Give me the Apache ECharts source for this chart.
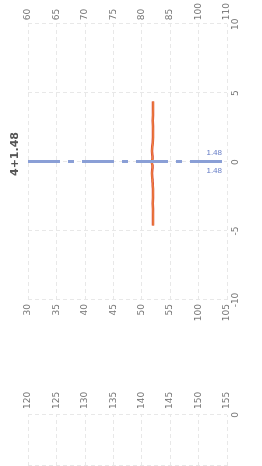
<!DOCTYPE html>
<html>
<head>
<meta charset="utf-8">
<script src="https://cdn.jsdelivr.net/npm/echarts@6/dist/echarts.min.js"></script>
<style>
  html, body { margin: 0; padding: 0; background: #fff; overflow: hidden; }
  #wrap { position: absolute; left: 0; top: 0; width: 262px; height: 466px; overflow: hidden; }
  #chart { position: absolute; left: 0; top: 0; width: 466px; height: 262px;
           transform-origin: 0 0; transform: translate(0, 466px) rotate(-90deg); }
</style>
</head>
<body>
<div id="wrap"><div id="chart"></div></div>
<script>
// row labels (top to bottom), three label columns
var rowLabelsRight = ['60', '65', '70', '75', '80', '85', '100', '110'];
var rowLabelsMid = ['30', '35', '40', '45', '50', '55', '100', '105'];
var rowLabelsLeft = ['120', '125', '130', '135', '140', '145', '150', '155'];

// main panel x values
var curveX = [-4.6, -3.8, -3.0, -2.2, -1.4, -0.8, -0.3, 0, 0.3, 0.8, 1.4, 2.2, 3.0, 3.8, 4.4];
var curveY = [4.40, 4.40, 4.39, 4.40, 4.38, 4.36, 4.38, 4.35, 4.38, 4.36, 4.39, 4.40, 4.39, 4.40, 4.40];

var refValue = 0;
var refLabel = '1.48';
var titleText = '4+1.48';

var chart = echarts.init(document.getElementById('chart'));

function pairs(xs, ys) {
  var out = [];
  for (var i = 0; i < xs.length; i++) out.push([xs[i], ys[i]]);
  return out;
}

var gridLine = { show: true, lineStyle: { color: '#e8e8e8', type: [4, 3], width: 1 } };
var lbl = { color: '#777', fontSize: 9, fontFamily: 'DejaVu Sans' };

option = {
  animation: false,
  title: {
    text: titleText,
    left: 307,
    top: 5,
    textAlign: 'center',
    textStyle: { fontSize: 11, fontWeight: 'bold', color: '#555', fontFamily: 'DejaVu Sans' }
  },
  grid: [
    { left: 166, right: 17, top: 28, bottom: 35 },
    { left: 0, right: 415, top: 28, bottom: 35 }
  ],
  xAxis: [
    { gridIndex: 0, type: 'value', min: -10, max: 10, interval: 5,
      axisLine: { show: false }, axisTick: { show: false },
      axisLabel: Object.assign({ margin: 4 }, lbl), splitLine: gridLine },
    { gridIndex: 1, type: 'value', min: -1, max: 0, interval: 1,
      axisLine: { show: false }, axisTick: { show: false },
      axisLabel: Object.assign({ margin: 4, showMinLabel: false }, lbl), splitLine: gridLine }
  ],
  yAxis: [
    { gridIndex: 0, type: 'value', min: 0, max: 7, interval: 1, inverse: true, position: 'left',
      axisLine: { show: false }, axisTick: { show: false }, splitLine: gridLine,
      axisLabel: Object.assign({ margin: 4, formatter: function (v) { return rowLabelsMid[v]; } }, lbl) },
    { gridIndex: 0, type: 'value', min: 0, max: 7, interval: 1, inverse: true, position: 'right',
      axisLine: { show: false }, axisTick: { show: false }, splitLine: { show: false },
      axisLabel: Object.assign({ margin: 4, formatter: function (v) { return rowLabelsRight[v]; } }, lbl) },
    { gridIndex: 1, type: 'value', min: 0, max: 7, interval: 1, inverse: true, position: 'right',
      axisLine: { show: false }, axisTick: { show: false }, splitLine: gridLine,
      axisLabel: Object.assign({ margin: 6, formatter: function (v) { return rowLabelsLeft[v]; } }, lbl) }
  ],
  series: [
    {
      type: 'line', xAxisIndex: 0, yAxisIndex: 0, data: pairs(curveX, curveY),
      showSymbol: false, smooth: true,
      lineStyle: { color: '#d9453a', width: 2.5 },
      markLine: {
        symbol: 'none', silent: true,
        lineStyle: { color: '#8a9fd6', width: 3, type: [32, 8, 6, 8] },
        label: { show: true, position: 'insideEndTop', formatter: refLabel, color: '#6a80c8', fontSize: 8 },
        data: [{ xAxis: refValue }]
      }
    },
    {
      type: 'line', xAxisIndex: 0, yAxisIndex: 0, data: pairs(curveX, curveY),
      showSymbol: false, smooth: true, z: 3,
      lineStyle: { color: '#f08a3c', width: 1.2 },
      markLine: {
        symbol: 'none', silent: true,
        lineStyle: { color: 'transparent', width: 0 },
        label: { show: true, position: 'insideEndBottom', formatter: refLabel, color: '#6a80c8', fontSize: 8 },
        data: [{ xAxis: refValue }]
      }
    }
  ]
};
chart.setOption(option);
</script>
</body>
</html>
